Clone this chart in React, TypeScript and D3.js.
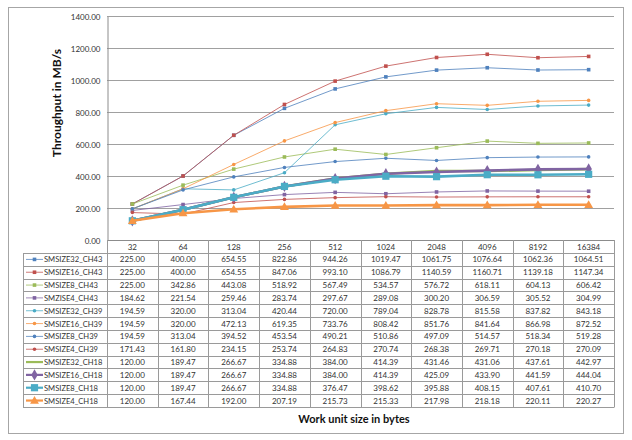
import React, { useEffect, useRef } from 'react';
import * as d3 from 'd3';

// categories (work unit size in bytes)
const sizes = ['32', '64', '128', '256', '512', '1024', '2048', '4096', '8192', '16384'];

const seriesNames = [
  'SMSIZE32_CH43', 'SMSIZE16_CH43', 'SMSIZE8_CH43', 'SMZISE4_CH43',
  'SMSIZE32_CH39', 'SMSIZE16_CH39', 'SMSIZE8_CH39', 'SMSIZE4_CH39',
  'SMSIZE32_CH18', 'SMSIZE16_CH18', 'SMSIZE8_CH18', 'SMSIZE4_CH18',
];

const smsize32_ch43 = [225.0, 400.0, 654.55, 822.86, 944.26, 1019.47, 1061.75, 1076.64, 1062.36, 1064.51];
const smsize16_ch43 = [225.0, 400.0, 654.55, 847.06, 993.1, 1086.79, 1140.59, 1160.71, 1139.18, 1147.34];
const smsize8_ch43 = [225.0, 342.86, 443.08, 518.92, 567.49, 534.57, 576.72, 618.11, 604.13, 606.42];
const smsize4_ch43 = [184.62, 221.54, 259.46, 283.74, 297.67, 289.08, 300.2, 306.59, 305.52, 304.99];
const smsize32_ch39 = [194.59, 320.0, 313.04, 420.44, 720.0, 789.04, 828.78, 815.58, 837.82, 843.18];
const smsize16_ch39 = [194.59, 320.0, 472.13, 619.35, 733.76, 808.42, 851.76, 841.64, 866.98, 872.52];
const smsize8_ch39 = [194.59, 313.04, 394.52, 453.54, 490.21, 510.86, 497.09, 514.57, 518.34, 519.28];
const smsize4_ch39 = [171.43, 161.8, 234.15, 253.74, 264.83, 270.74, 268.38, 269.71, 270.18, 270.09];
const smsize32_ch18 = [120.0, 189.47, 266.67, 334.88, 384.0, 414.39, 431.46, 431.06, 437.61, 442.97];
const smsize16_ch18 = [120.0, 189.47, 266.67, 334.88, 384.0, 414.39, 425.09, 433.9, 441.59, 444.04];
const smsize8_ch18 = [120.0, 189.47, 266.67, 334.88, 376.47, 398.62, 395.88, 408.15, 407.61, 410.7];
const smsize4_ch18 = [120.0, 167.44, 192.0, 207.19, 215.73, 215.33, 217.98, 218.18, 220.11, 220.27];

const seriesValues = [
  smsize32_ch43, smsize16_ch43, smsize8_ch43, smsize4_ch43,
  smsize32_ch39, smsize16_ch39, smsize8_ch39, smsize4_ch39,
  smsize32_ch18, smsize16_ch18, smsize8_ch18, smsize4_ch18,
];

const yTicks = [0, 200, 400, 600, 800, 1000, 1200, 1400];

// excel 2007 palette
const colors = [
  '#4f81bd', '#c0504d', '#9bbb59', '#8064a2',
  '#4bacc6', '#f79646', '#4f81bd', '#c0504d',
  '#9bbb59', '#8064a2', '#4bacc6', '#f79646',
];
// marker per series
const markers = [
  'sq', 'sq', 'sq', 'sq',
  'dot', 'dot', 'dot', 'dot',
  'none', 'diamond', 'bigsq', 'tri',
];

const FONT = 'Lato, "Open Sans", sans-serif';

const App: React.FC = () => {
  const svgRef = useRef<SVGSVGElement>(null);

  useEffect(() => {
    if (!svgRef.current) return;
    const svg = d3.select(svgRef.current);
    svg.selectAll('*').remove();

    const left = 107, right = 614, top = 16, bottom = 240;
    const legendLeft = 23;
    const headerH = 13;
    const rowH = 12.83;

    const x = d3.scaleBand().domain(sizes).range([left, right]).padding(0);
    const y = d3.scaleLinear().domain([0, 1400]).range([bottom, top]);
    const cx = (s: string) => (x(s) as number) + x.bandwidth() / 2;

    // outer chart border
    svg.append('rect')
      .attr('x', 8.5).attr('y', 7.5).attr('width', 615).attr('height', 426)
      .style('fill', 'white').style('stroke', '#a6a6a6').style('stroke-width', 1);

    // gridlines
    svg.append('g').selectAll('line').data(yTicks.slice(1)).join('line')
      .attr('x1', left).attr('x2', right)
      .attr('y1', d => Math.round(y(d)) + 0.5).attr('y2', d => Math.round(y(d)) + 0.5)
      .style('stroke', '#a0a0a0').style('stroke-width', 1);

    // y axis
    const yAxis = d3.axisLeft(y).tickValues(yTicks).tickFormat(d3.format('.2f')).tickSize(0).tickPadding(7);
    const ya = svg.append('g').attr('transform', `translate(${left + 0.5},0.5)`).call(yAxis as any);
    ya.select('.domain').style('stroke', '#8c8c8c');
    ya.selectAll('text').style('font-family', FONT).style('font-size', '8px').style('fill', '#333');

    // y title
    svg.append('text')
      .attr('transform', `translate(61,${(top + bottom) / 2 - 25}) rotate(-90)`)
      .attr('text-anchor', 'middle')
      .style('font-family', FONT).style('font-size', '12px').style('font-weight', 'bold').style('fill', '#111')
      .text('Throughput in MB/s');

    // data table
    const tableBottom = bottom + headerH + rowH * seriesNames.length;
    const tg = svg.append('g');
    const lineColor = '#9a9a9a';
    // horizontal row lines
    const rowYs = d3.range(seriesNames.length + 1).map(i => bottom + headerH + i * rowH);
    tg.selectAll('line.h').data(rowYs).join('line')
      .attr('x1', legendLeft).attr('x2', right)
      .attr('y1', d => Math.round(d) + 0.5).attr('y2', d => Math.round(d) + 0.5)
      .style('stroke', lineColor);
    tg.append('line').attr('x1', left).attr('x2', right).attr('y1', bottom + 0.5).attr('y2', bottom + 0.5)
      .style('stroke', '#8c8c8c');
    // vertical lines
    const colXs = sizes.map(s => x(s) as number).concat([right]);
    tg.selectAll('line.v').data(colXs).join('line')
      .attr('x1', d => Math.round(d) + 0.5).attr('x2', d => Math.round(d) + 0.5)
      .attr('y1', bottom).attr('y2', Math.round(tableBottom) + 0.5)
      .style('stroke', lineColor);
    tg.append('line')
      .attr('x1', legendLeft + 0.5).attr('x2', legendLeft + 0.5)
      .attr('y1', Math.round(bottom + headerH) + 0.5).attr('y2', Math.round(tableBottom) + 0.5)
      .style('stroke', lineColor);

    // header labels
    tg.selectAll('text.hd').data(sizes).join('text')
      .attr('x', d => cx(d)).attr('y', bottom + headerH / 2 + 3)
      .attr('text-anchor', 'middle')
      .style('font-family', FONT).style('font-size', '8px').style('fill', '#333')
      .text(d => d);

    const drawMarker = (g: any, kind: string, px: number, py: number, color: string) => {
      if (kind === 'sq') {
        g.append('rect').attr('x', px - 1.8).attr('y', py - 1.8).attr('width', 3.6).attr('height', 3.6).style('fill', color);
      } else if (kind === 'dot') {
        g.append('circle').attr('cx', px).attr('cy', py).attr('r', 1.8).style('fill', color);
      } else if (kind === 'diamond') {
        g.append('path').attr('d', d3.symbol(d3.symbolDiamond, 36)()).attr('transform', `translate(${px},${py})`).style('fill', color);
      } else if (kind === 'bigsq') {
        g.append('rect').attr('x', px - 3.6).attr('y', py - 3.6).attr('width', 7.2).attr('height', 7.2).style('fill', color);
      } else if (kind === 'tri') {
        g.append('path').attr('d', d3.symbol(d3.symbolTriangle, 34)()).attr('transform', `translate(${px},${py + 0.6})`).style('fill', color);
      }
    };

    // table rows
    seriesNames.forEach((name, i) => {
      const ry = bottom + headerH + i * rowH + rowH / 2;
      const thick = i >= 8;
      const color = colors[i];
      tg.append('line').attr('x1', legendLeft + 3).attr('x2', legendLeft + 20).attr('y1', ry).attr('y2', ry)
        .style('stroke', color).style('stroke-width', thick ? 2.2 : 1).style('opacity', thick ? 1 : 0.75);
      drawMarker(tg, markers[i], legendLeft + 11.5, ry, color);
      tg.append('text').attr('x', legendLeft + 21).attr('y', ry + 3)
        .style('font-family', FONT).style('font-size', '7.6px').style('fill', '#333')
        .text(name);
      tg.selectAll(null).data(seriesValues[i]).join('text')
        .attr('x', (_d: number, j: number) => cx(sizes[j])).attr('y', ry + 3)
        .attr('text-anchor', 'middle')
        .style('font-family', FONT).style('font-size', '8px').style('fill', '#333')
        .text((d: number) => d.toFixed(2));
    });

    // x title
    svg.append('text')
      .attr('x', 354).attr('y', 423)
      .attr('text-anchor', 'middle')
      .style('font-family', FONT).style('font-size', '11px').style('font-weight', 'bold').style('fill', '#111')
      .text('Work unit size in bytes');

    // series lines
    const line = d3.line<number>().x((_d, j) => cx(sizes[j])).y(d => y(d));
    seriesValues.forEach((vals, i) => {
      const g = svg.append('g');
      const thick = i >= 8;
      g.append('path').attr('d', line(vals))
        .style('fill', 'none').style('stroke', colors[i])
        .style('stroke-width', thick ? 2.6 : 1)
        .style('opacity', thick ? 1 : 0.8);
      vals.forEach((v, j) => drawMarker(g, markers[i], cx(sizes[j]), y(v), colors[i]));
    });
  }, []);

  return (
    <svg
      ref={svgRef}
      width={632}
      height={440}
      style={{ position: 'absolute', left: 0, top: 0, background: 'white' }}
    />
  );
};

export default App;
